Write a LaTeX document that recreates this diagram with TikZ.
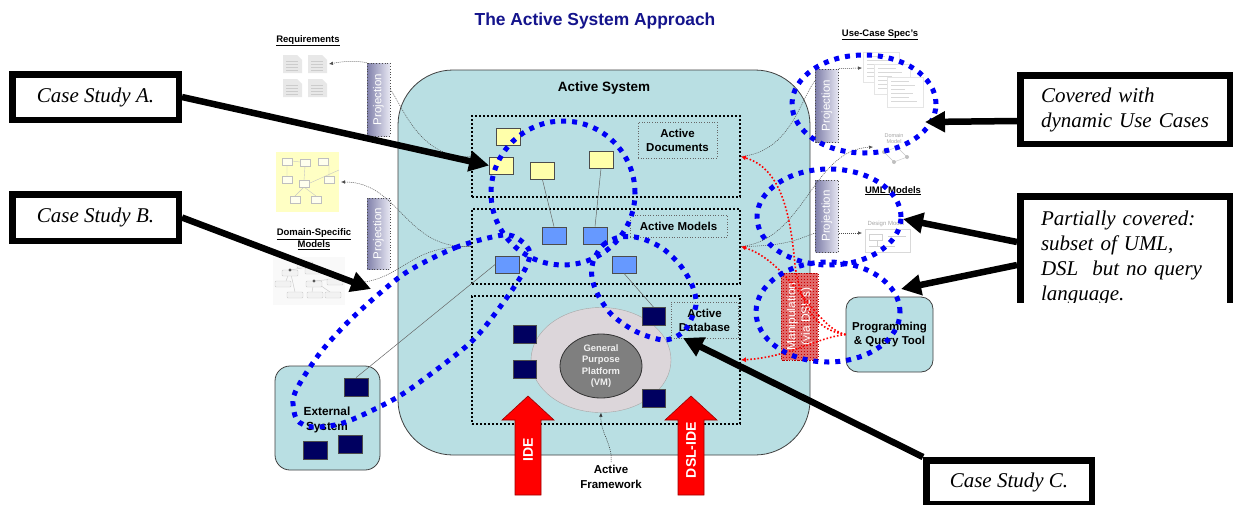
\documentclass[tikz,border=0pt]{standalone}
\usepackage{fontspec}
\setmainfont{Liberation Serif}
\setsansfont{Liberation Sans}
\usepackage{tikz}
\usetikzlibrary{positioning,shapes.geometric,arrows.meta,calc,patterns}
\definecolor{asblue}{HTML}{B9DFE3}
\definecolor{astitle}{HTML}{14148C}
\definecolor{asyellow}{HTML}{FFFFAA}
\definecolor{asmodel}{HTML}{6699FF}
\definecolor{asnavy}{HTML}{000060}
\definecolor{asgrey}{HTML}{DCD6DA}
\definecolor{asvm}{HTML}{7F7F7F}
\definecolor{asproj}{HTML}{8080AA}
\definecolor{asproj2}{HTML}{E8E8F3}
\definecolor{asdots}{HTML}{0000F5}
\definecolor{asred}{HTML}{FF0000}
\definecolor{asmanip}{HTML}{E06A6A}

\tikzset{
  layerbox/.style={draw, line width=1.8pt, dash pattern=on 1.8pt off 2.2pt, minimum width=268pt},
  tagbox/.style={draw=gray!80!black, line width=0.6pt, dotted, align=center, inner sep=1pt,
    font=\sffamily\bfseries\fontsize{11.5}{14}\selectfont},
  docbox/.style={draw=black!70, fill=asyellow, line width=0.8pt, minimum width=24pt, minimum height=17pt, inner sep=0pt},
  modbox/.style={docbox, fill=asmodel},
  dbbox/.style={docbox, fill=asnavy, minimum width=23pt, minimum height=18pt},
  projbox/.style={draw=gray!60!black, dotted, line width=0.8pt, left color=asproj, right color=asproj2,
    rotate=90, minimum height=23pt, inner sep=0pt, text=white, font=\sffamily\fontsize{11.5}{13}\selectfont},
  heading/.style={font=\sffamily\bfseries\fontsize{9.5}{12}\selectfont, align=center},
  lbl/.style={font=\sffamily\bfseries\fontsize{11.5}{14.5}\selectfont, align=center},
  roundbox/.style={draw=black!75, fill=asblue, line width=0.8pt},
  loopdots/.style={asdots, line width=5pt, dash pattern=on 5pt off 6pt},
  thinlink/.style={gray!60!black, line width=0.5pt, dash pattern=on 1pt off 1pt},
  thinarrow/.style={thinlink, -{Latex[length=4pt,width=3.5pt]}},
  tie/.style={black!60, line width=0.5pt},
  manlink/.style={asred, line width=1.6pt, dash pattern=on 1.6pt off 2pt, -{Latex[length=5pt,width=5pt]}},
  callout/.style={draw, fill=white, line width=6.5pt, font=\fontsize{21}{25}\selectfont\itshape},
  callarrow/.style={line width=6.5pt, -{Triangle[length=20pt,width=20pt]}},
}

\begin{document}
\begin{tikzpicture}[x=1pt,y=-1pt]
  \useasboundingbox (0,0) rectangle (1236,504);
  \fill[white] (0,0) rectangle (1236,504);

  \node[font=\sffamily\bfseries\fontsize{17.4}{20}\selectfont, text=astitle] (title) at (595,21) {The Active System Approach};

  % --- artefacts on the left: requirements, domain model, DSM tree
  \node[heading, anchor=base] (reqhead) at (308,42) {\underline{Requirements}};
  \foreach \ix/\iy in {283/55,308/55,283/79,308/79}{
    \fill[gray!18] (\ix,\iy) -- ++(14,0) -- ++(5,5) -- ++(0,13) -- ++(-19,0) -- cycle;
    \foreach \l in {6,9,12,15}
      \draw[gray!40,line width=1pt] (\ix+3,\iy+\l) -- (\ix+15,\iy+\l);
  }
  \coordinate (reqend) at (329,64);

  \fill[asyellow!70] (276,152) rectangle (339,212);
  \draw[gray!45, line width=0.4pt] (292,161) -- (300,162) (305,166) -- (304,180) (304,187) -- (295,196)
    (304,187) -- (316,196) (310,183) -- (339,170) (287,165) -- (287,176) (329,165) -- (329,176);
  \foreach \bx/\by in {282/158,300/159,318/158,282/176,299/180,290/196,311/196,324/176}
    \draw[gray!50, fill=white!80!asyellow, line width=0.4pt] (\bx,\by) rectangle ++(10,7);
  \coordinate (dsmend) at (341,182);

  \node[heading] (dsmhead) at (314,239) {\underline{Domain-Specific}\\\underline{Models}};
  \fill[gray!5] (273,257) rectangle (345,305);
  \draw[gray!40, line width=0.5pt] (290,270) -- (286,281) (290,270) -- (302,268) (314,281) -- (312,292)
    (314,281) -- (330,292) (290,270) -- (295,292) (314,281) -- (334,279);
  \foreach \bx/\by in {297/262,282/270,305/268,275/281,306/281,327/279,287/292,307/292,325/292}
    \draw[gray!40, fill=gray!10, rounded corners=1pt] (\bx,\by) rectangle ++(16,6);
  \fill[black!65] (290,270) circle[radius=1.6pt] (314,281) circle[radius=1.6pt];
  \coordinate (treeend) at (365,282);

  % --- artefacts on the right: use-case specs, domain model, design model
  \node[heading, anchor=base] (uchead) at (880,36) {\underline{Use-Case Spec's}};
  \foreach \sx/\sy in {863/52,874/64,887/77}{
    \draw[gray!20, fill=white] (\sx,\sy) rectangle ++(36,30);
    \foreach \l/\w in {4/18,8/24,12/14,16/22,20/18,24/26}
      \draw[gray!30, line width=0.6pt] (\sx+4,\sy+\l) -- ++(\w,0);
  }
  \coordinate (ucend) at (862,68);
  \node[font=\sffamily\fontsize{5.5}{6}\selectfont, text=gray!70, align=center] (dmtext) at (894,139) {Domain\\Model};
  \draw[gray!45] (884,152) -- (897,147) -- (907,157) (884,152) -- (894,162) -- (907,157);
  \fill[gray!50] (884,152) circle[radius=2pt] (897,147) circle[radius=2pt] (907,157) circle[radius=2pt] (894,162) circle[radius=2pt];
  \coordinate (dmend) at (873,147);

  \node[heading, anchor=base] (umlhead) at (893,193) {\underline{UML Models}};
  \node[font=\sffamily\fontsize{6}{7}\selectfont, text=gray!70] (dgtext) at (886,224) {Design Model};
  \draw[gray!30] (865,229) rectangle (910,252);
  \draw[gray!35, line width=0.8pt] (869,234) rectangle (882,240) (888,236) -- (906,236) (869,246) -- (895,246) (877,240) -- (877,246);
  \coordinate (dgend) at (862,233);

  % --- projections
  \node[projbox, minimum width=73pt] (proj1) at (378.5,99.5) {Projection};
  \node[projbox, minimum width=71pt] (proj2) at (378.5,233.5) {Projection};
  \node[projbox, minimum width=73pt] (proj3) at (827,105.5) {Projection};
  \node[projbox, minimum width=72pt] (proj4) at (827,216) {Projection};

  % --- the active system
  \node[roundbox, rounded corners=55pt, minimum width=412pt, minimum height=385pt] (actsys) at (604,262.5) {};
  \node[font=\sffamily\bfseries\fontsize{13.5}{16}\selectfont, below=9pt of actsys.north] (actsyslbl) {Active System};

  \node[layerbox, minimum height=81pt] (docs) at (606,156.5) {};
  \node[layerbox, minimum height=75pt] (models) at (606,246.5) {};
  \node[layerbox, minimum height=128pt] (db) at (606,360) {};
  \node[tagbox, minimum width=79pt, minimum height=36pt] (doctag) at (677.5,140) {Active\\Documents};
  \node[tagbox, minimum width=97pt, minimum height=22pt] (modtag) at (678.5,226) {Active Models};
  \node[tagbox, minimum width=67pt, minimum height=36pt] (dbtag) at (704.5,320) {Active\\Database};

  \node[ellipse, draw=gray!70, fill=asgrey, minimum width=140pt, minimum height=105pt] (gpp) at (601,360) {};
  \node[ellipse, draw=black!80, fill=asvm, line width=0.8pt, minimum width=82pt, minimum height=64pt, inner sep=0pt,
    text=gray!12, align=center, font=\sffamily\bfseries\fontsize{9.4}{11.3}\selectfont] (vm) at (601,366) {General\\Purpose\\Platform\\(VM)};

  \foreach \n/\px/\py in {doc1/508/136.5, doc2/501.5/165.5, doc3/542.5/171, doc4/601/159.5}
    \node[docbox] (\n) at (\px,\py) {};
  \foreach \n/\px/\py in {mod1/554/235.5, mod2/595/235.5, mod3/507.5/264.5, mod4/624/264.5}
    \node[modbox] (\n) at (\px,\py) {};
  \foreach \n/\px/\py in {db1/653.5/316.5, db2/525/334, db3/525/369, db4/653.5/398}
    \node[dbbox] (\n) at (\px,\py) {};

  % external system and query tool
  \node[roundbox, rounded corners=15pt, minimum width=105pt, minimum height=104pt] (ext) at (327.5,418) {};
  \node[lbl, font=\sffamily\bfseries\fontsize{11.8}{15}\selectfont] (extlbl) at (327,420) {External\\System};
  \foreach \n/\px/\py in {ext1/356/387, ext2/350/444.5, ext3/315/450.5}
    \node[dbbox, minimum width=24pt] (\n) at (\px,\py) {};
  \node[roundbox, rounded corners=12pt, minimum width=87pt, minimum height=75pt, lbl] (prog) at (889.5,334.5) {Programming\\\& Query Tool};

  % ties between layers
  \draw[tie] (doc3.south) -- (mod1.north);
  \draw[tie] (doc4.south) -- (mod2.north);
  \draw[tie] (mod3.west) -- (ext1.north);
  \draw[tie] (mod4.south) -- (db1.north);

  % projection links
  \draw[thinlink] ($(proj1.south)+(0,-10)$) .. controls (402,105) and (420,160) .. (docs.west);
  \draw[thinarrow] (proj1.north east) .. controls (352,60) and (340,62) .. (reqend);
  \draw[thinarrow] (models.west) .. controls (405,250) and (400,182) .. (dsmend);
  \draw[thinlink] (treeend) .. controls (405,275) and (412,245) .. (models.west);
  \draw[thinlink] (docs.east) .. controls (790,152) and (800,100) .. ($(proj3.north)+(0,-25)$);
  \draw[thinarrow] (proj3.south east) -- (ucend);
  \draw[thinarrow] (models.east) .. controls (805,240) and (812,150) .. (dmend);
  \draw[thinlink] (models.east) .. controls (790,246) and (800,238) .. ($(proj4.north)+(0,17)$);
  \draw[thinarrow] ($(proj4.south)+(0,17)$) -- (dgend);

  % manipulation through DSLs
  \node[draw=asred!70!black, line width=0.5pt, dotted, preaction={fill=asmanip}, pattern=grid, pattern color=asred!80!black,
    rotate=90, minimum width=87pt, minimum height=37pt, inner sep=0pt, text=white, align=center,
    font=\sffamily\fontsize{12}{14.5}\selectfont] (manip) at (799.5,316.5) {Manipulation\\(via DSL's)};
  \draw[manlink] (prog.west) .. controls (812,330) and (800,300) .. (795,265) .. controls (790,210) and (780,168) .. (docs.east);
  \draw[manlink] (prog.west) .. controls (815,328) and (790,262) .. (models.east);
  \draw[manlink] (prog.west) .. controls (815,338) and (790,357) .. (db.east);

  % IDE arrows and framework
  \foreach \ax/\lab/\n in {528/IDE/ide, 691/DSL-IDE/dslide}{
    \filldraw[fill=asred, draw=asred!60!black, line width=0.6pt]
      (\ax-13,495) -- (\ax-13,420) -- (\ax-26,420) -- (\ax,396) -- (\ax+26,420) -- (\ax+13,420) -- (\ax+13,495) -- cycle;
    \node[rotate=90, text=white, font=\sffamily\bfseries\fontsize{14}{16}\selectfont] (\n) at (\ax,450) {\lab};
  }
  \node[lbl] (fw) at (611,477) {Active\\Framework};
  \draw[thinarrow, black!80] (fw.north) .. controls (613,445) and (600,432) .. (gpp.south);

  % coverage loops
  \draw[loopdots] (563,193) circle[radius=72pt];
  \draw[loopdots] plot[smooth cycle] coordinates {(503,235) (457,247) (410,270) (380,293) (347,323) (320,353)
    (300,383) (293,400) (297,420) (313,427) (343,423) (383,405) (413,387) (470,343) (500,307) (523,273) (530,253) (520,240)};
  \draw[loopdots] plot[smooth cycle] coordinates {(593,262) (603,245) (620,237) (640,238) (662,248) (680,265)
    (692,285) (696,305) (685,330) (665,340) (637,332) (612,315) (598,295) (592,278)};
  \draw[loopdots] (864,104) ellipse[x radius=72pt, y radius=49pt];
  \draw[loopdots] (829,217) ellipse[x radius=72pt, y radius=48pt];
  \draw[loopdots] (828,312) ellipse[x radius=72pt, y radius=50pt];

  % call-outs
  \node[callout, minimum width=166.5pt, minimum height=45.5pt] (casea) at (95.5,97) {Case Study A.};
  \node[callout, minimum width=166.5pt, minimum height=46.5pt] (caseb) at (95.5,217.5) {Case Study B.};
  \node[callout, minimum width=209.5pt, minimum height=68.5pt, text width=168pt, align=left] (covd) at (1125,109.5)
    {Covered with\\dynamic Use Cases};
  \begin{scope}
    \clip (1000,180) rectangle (1236,302);
    \node[callout, minimum width=209.5pt, minimum height=122.5pt, text width=168pt, align=left] (part) at (1125,257.5)
      {Partially covered:\\subset of UML,\\DSL\ \ but no query\\language.};
  \end{scope}
  \node[callout, minimum width=165.5pt, minimum height=43.5pt] (casec) at (1009,482) {Case Study C.};

  \coordinate (btip) at (371,289);
  \coordinate (covtip) at (925,122);
  \coordinate (umltip) at (903,219);
  \coordinate (qtip) at (901,289);
  \coordinate (ctip) at (683,338);
  \draw[callarrow] (casea.east) -- (doc2.west);
  \draw[callarrow] (caseb.east) -- (btip);
  \draw[callarrow] ($(covd.west)+(0,11.5)$) -- (covtip);
  \draw[callarrow] ($(part.west)+(0,-15.5)$) -- (umltip);
  \draw[callarrow] ($(part.west)+(0,7.5)$) -- (qtip);
  \draw[callarrow] (casec.north west) -- (ctip);
\end{tikzpicture}
\end{document}
